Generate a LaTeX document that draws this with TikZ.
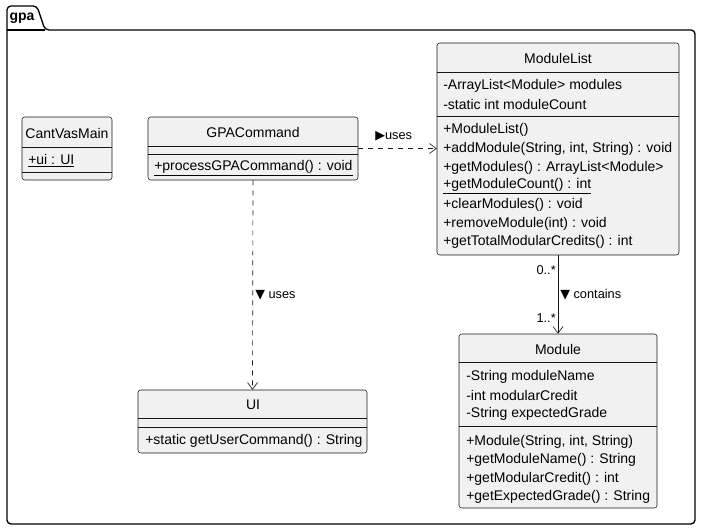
\documentclass[tikz,border=0pt]{standalone}
\usepackage{fontspec}
\setmainfont{Liberation Sans}
\newfontfamily\symf{DejaVu Sans}
\usetikzlibrary{arrows.meta,positioning,fit}
\definecolor{linec}{HTML}{181818}
\definecolor{boxbg}{HTML}{F1F1F1}
\tikzset{
  cls/.style={draw=linec,fill=boxbg,rounded corners=2pt,line width=0.4pt,inner sep=0pt},
  sep/.style={draw=linec,line width=0.4pt},
  pkg/.style={draw=black,line width=1pt,rounded corners=3pt},
  mem/.style={anchor=west,inner sep=0pt,font=\fontsize{10.5}{12}\selectfont},
  ttl/.style={inner sep=0pt,font=\fontsize{10.5}{12}\selectfont},
  lbl/.style={inner sep=0pt,font=\fontsize{9.6}{11}\selectfont},
  dep/.style={linec,line width=0.5pt,dash pattern=on 3.75pt off 3.75pt,-{Straight Barb[length=5pt,width=7.5pt]}},
  assoc/.style={linec,line width=0.5pt,-{Straight Barb[length=5pt,width=7.5pt]}}
}
\newcommand{\tri}[1]{{\symf\fontsize{9.5}{10}\selectfont #1}}
\begin{document}
\begin{tikzpicture}[x=0.75pt,y=-0.75pt]
\useasboundingbox (0,0) rectangle (702,531);
% package frame
\draw[pkg] (7,524) -- (7,6) -- (37,6) -- (45,30) -- (695,30) -- (695,524) -- cycle;
\draw[pkg] (7,30) -- (45,30);
\node[inner sep=0pt,font=\bfseries\fontsize{10.5}{12}\selectfont] (gpa) at (22,18) {gpa};
% CantVasMain
\node[cls,fit={(22,117) (112,180)}] (cvm) {};
\draw[sep] (22,147) -- (112,147) (22,172) -- (112,172);
\node[ttl] (cvmT) at (67,133) {CantVasMain};
\node[mem] (cvmA) at (28,161) {\underline{+ui : UI}};
% GPACommand
\node[cls,fit={(148,117) (358,180)}] (gpac) {};
\draw[sep] (148,146) -- (358,146) (148,154) -- (358,154);
\node[ttl] (gpacT) at (253,132) {GPACommand};
\node[mem] (gpacM) at (154,168) {\underline{+processGPACommand() : void}};
% ModuleList
\node[cls,fit={(437,43) (679,255)}] (mlist) {};
\draw[sep] (437,72) -- (679,72) (437,116) -- (679,116);
\node[ttl] (mlistT) at (558,58) {ModuleList};
\foreach \t [count=\i] in {{-ArrayList<Module> modules},{-static int moduleCount}}
  \node[mem] (mlA\i) at (443,86+18.5*\i-18.5) {\t};
\foreach \t [count=\i] in {{+ModuleList()},{+addModule(String, int, String) : void},{+getModules() : ArrayList<Module>},{\underline{+getModuleCount() : int}},{+clearModules() : void},{+removeModule(int) : void},{+getTotalModularCredits() : int}}
  \node[mem] (mlM\i) at (443,130+18.7*\i-18.7) {\t};
% Module
\node[cls,fit={(459,334) (657,508)}] (mod) {};
\draw[sep] (459,362) -- (657,362) (459,426) -- (657,426);
\node[ttl] (modT) at (558,349) {Module};
\foreach \t [count=\i] in {{-String moduleName},{-int modularCredit},{-String expectedGrade}}
  \node[mem] (modA\i) at (466,377+18.2*\i-18.2) {\t};
\foreach \t [count=\i] in {{+Module(String, int, String)},{+getModuleName() : String},{+getModularCredit() : int},{+getExpectedGrade() : String}}
  \node[mem] (modM\i) at (466,442+18.2*\i-18.2) {\t};
% UI
\node[cls,fit={(138,390) (367,453)}] (ui) {};
\draw[sep] (138,418) -- (367,418) (138,427) -- (367,427);
\node[ttl] (uiT) at (253,405) {UI};
\node[mem] (uiM) at (145,441) {+static getUserCommand() : String};
% connectors
\draw[dep] (gpac.east) -- (gpac.east -| mlist.west);
\node[lbl,anchor=west] (usesA) at (375,136) {\tri{▶}uses};
\draw[dep] (gpac.south) -- (ui.north);
\node[lbl,anchor=west] (usesB) at (255,295) {\tri{▼} uses};
\draw[assoc] (mlist.south) -- (mod.north);
\node[lbl,anchor=west] (cont) at (560,295) {\tri{▼} contains};
\node[lbl,anchor=east] (mA) at (556,270) {0..*};
\node[lbl,anchor=east] (mB) at (556,318) {1..*};
\end{tikzpicture}
\end{document}
